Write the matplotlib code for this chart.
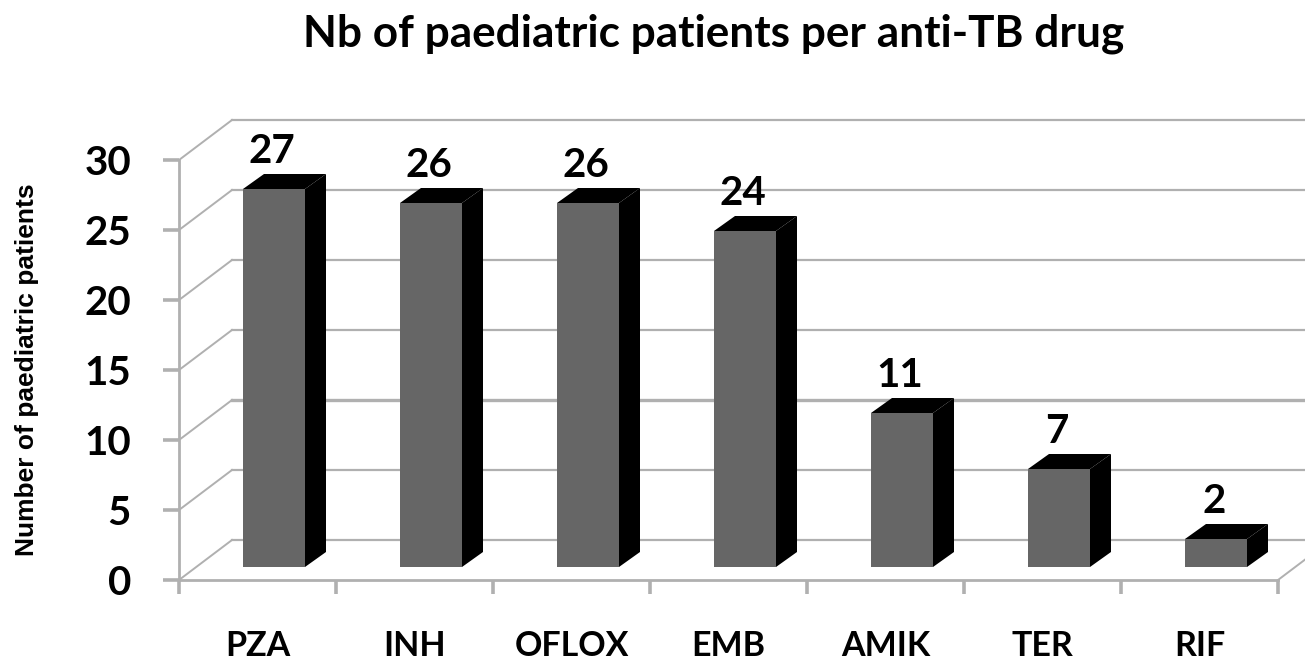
import matplotlib
matplotlib.use("Agg")
import matplotlib.pyplot as plt
from matplotlib.font_manager import FontProperties
from matplotlib.patches import Polygon

drugs = ["PZA", "INH", "OFLOX", "EMB", "AMIK", "TER", "RIF"]
patients = [27, 26, 26, 24, 11, 7, 2]
yticks = [0, 5, 10, 15, 20, 25, 30]

plt.rcParams['font.family'] = ['Lato', 'DejaVu Sans']

W, H = 1305, 661
fig = plt.figure(figsize=(W / 100, H / 100), dpi=100)
ax = fig.add_axes([179 / W, (H - 580) / H, 1099 / W, 420 / H])
ax.set_xlim(-0.5, 6.5)
ax.set_ylim(0, 30)

# pixel sizes turned into data units
ux = 157.0
uy = 14.0
grey = "#b0b0b0"
wall_dx, wall_dy = 53 / ux, 40 / uy
depth_dx, depth_dy = 21 / ux, 15 / uy
bar_w = 62 / ux
bar_shift = 16.5 / ux
bar_base = 13 / uy

# back wall lines and the diagonals on the side wall
for t in yticks:
    lw = 2.4 if t == 10 else 1.6
    ax.plot([-0.5 + wall_dx, 6.67], [t + wall_dy, t + wall_dy], color=grey, lw=lw, clip_on=False, zorder=1)
    ax.plot([-0.5, -0.5 + wall_dx], [t, t + wall_dy], color=grey, lw=1.4, clip_on=False, zorder=1)
# right end of the floor
ax.plot([6.5, 6.5 + wall_dx], [0, wall_dy], color=grey, lw=1.4, clip_on=False, zorder=1)

xs = [i + bar_shift for i in range(len(drugs))]
ax.bar(xs, patients, width=bar_w, bottom=bar_base, color="#666666", linewidth=0, zorder=3)

for x, v in zip(xs, patients):
    l, r = x - bar_w / 2, x + bar_w / 2
    b, t = bar_base, bar_base + v
    # top and side faces of the block
    ax.add_patch(Polygon([(l, t), (l + depth_dx, t + depth_dy), (r + depth_dx, t + depth_dy), (r, t)],
                         closed=True, color="black", lw=0, clip_on=False, zorder=3))
    ax.add_patch(Polygon([(r, b), (r + depth_dx, b + depth_dy), (r + depth_dx, t + depth_dy), (r, t)],
                         closed=True, color="black", lw=0, clip_on=False, zorder=3))
    ax.text(x - 2 / ux, t + depth_dy + 11 / uy, str(v), ha="center", va="baseline",
            fontsize=29, fontweight="bold", color="black", zorder=4)

for side in ["top", "right"]:
    ax.spines[side].set_visible(False)
for side in ["left", "bottom"]:
    ax.spines[side].set_color(grey)
    ax.spines[side].set_linewidth(2)

ax.set_yticks(yticks)
ax.set_yticklabels([str(t) for t in yticks], fontsize=29, fontweight="bold")
ax.tick_params(axis="y", length=11.5, width=2.6, color=grey, pad=23)
ax.set_xticks(range(len(drugs)))
ax.set_xticklabels(drugs, fontsize=24.5, fontweight="bold")
ax.tick_params(axis="x", which="major", length=0, pad=36)
ax.set_xticks([i - 0.5 for i in range(len(drugs) + 1)], minor=True)
ax.tick_params(axis="x", which="minor", length=10, width=2.6, color=grey)

fig.text(714 / W, 1 - 46 / H, "Nb of paediatric patients per anti-TB drug", ha="center", va="baseline",
         fontsize=31.8, fontweight="bold", color="black")
fig.text(27 / W, 1 - 370 / H, "Number of paediatric patients", rotation=90, ha="center", va="center",
         fontproperties=FontProperties(family="Liberation Sans", weight="bold", size=19))

fig.savefig("out.png", dpi=100)
